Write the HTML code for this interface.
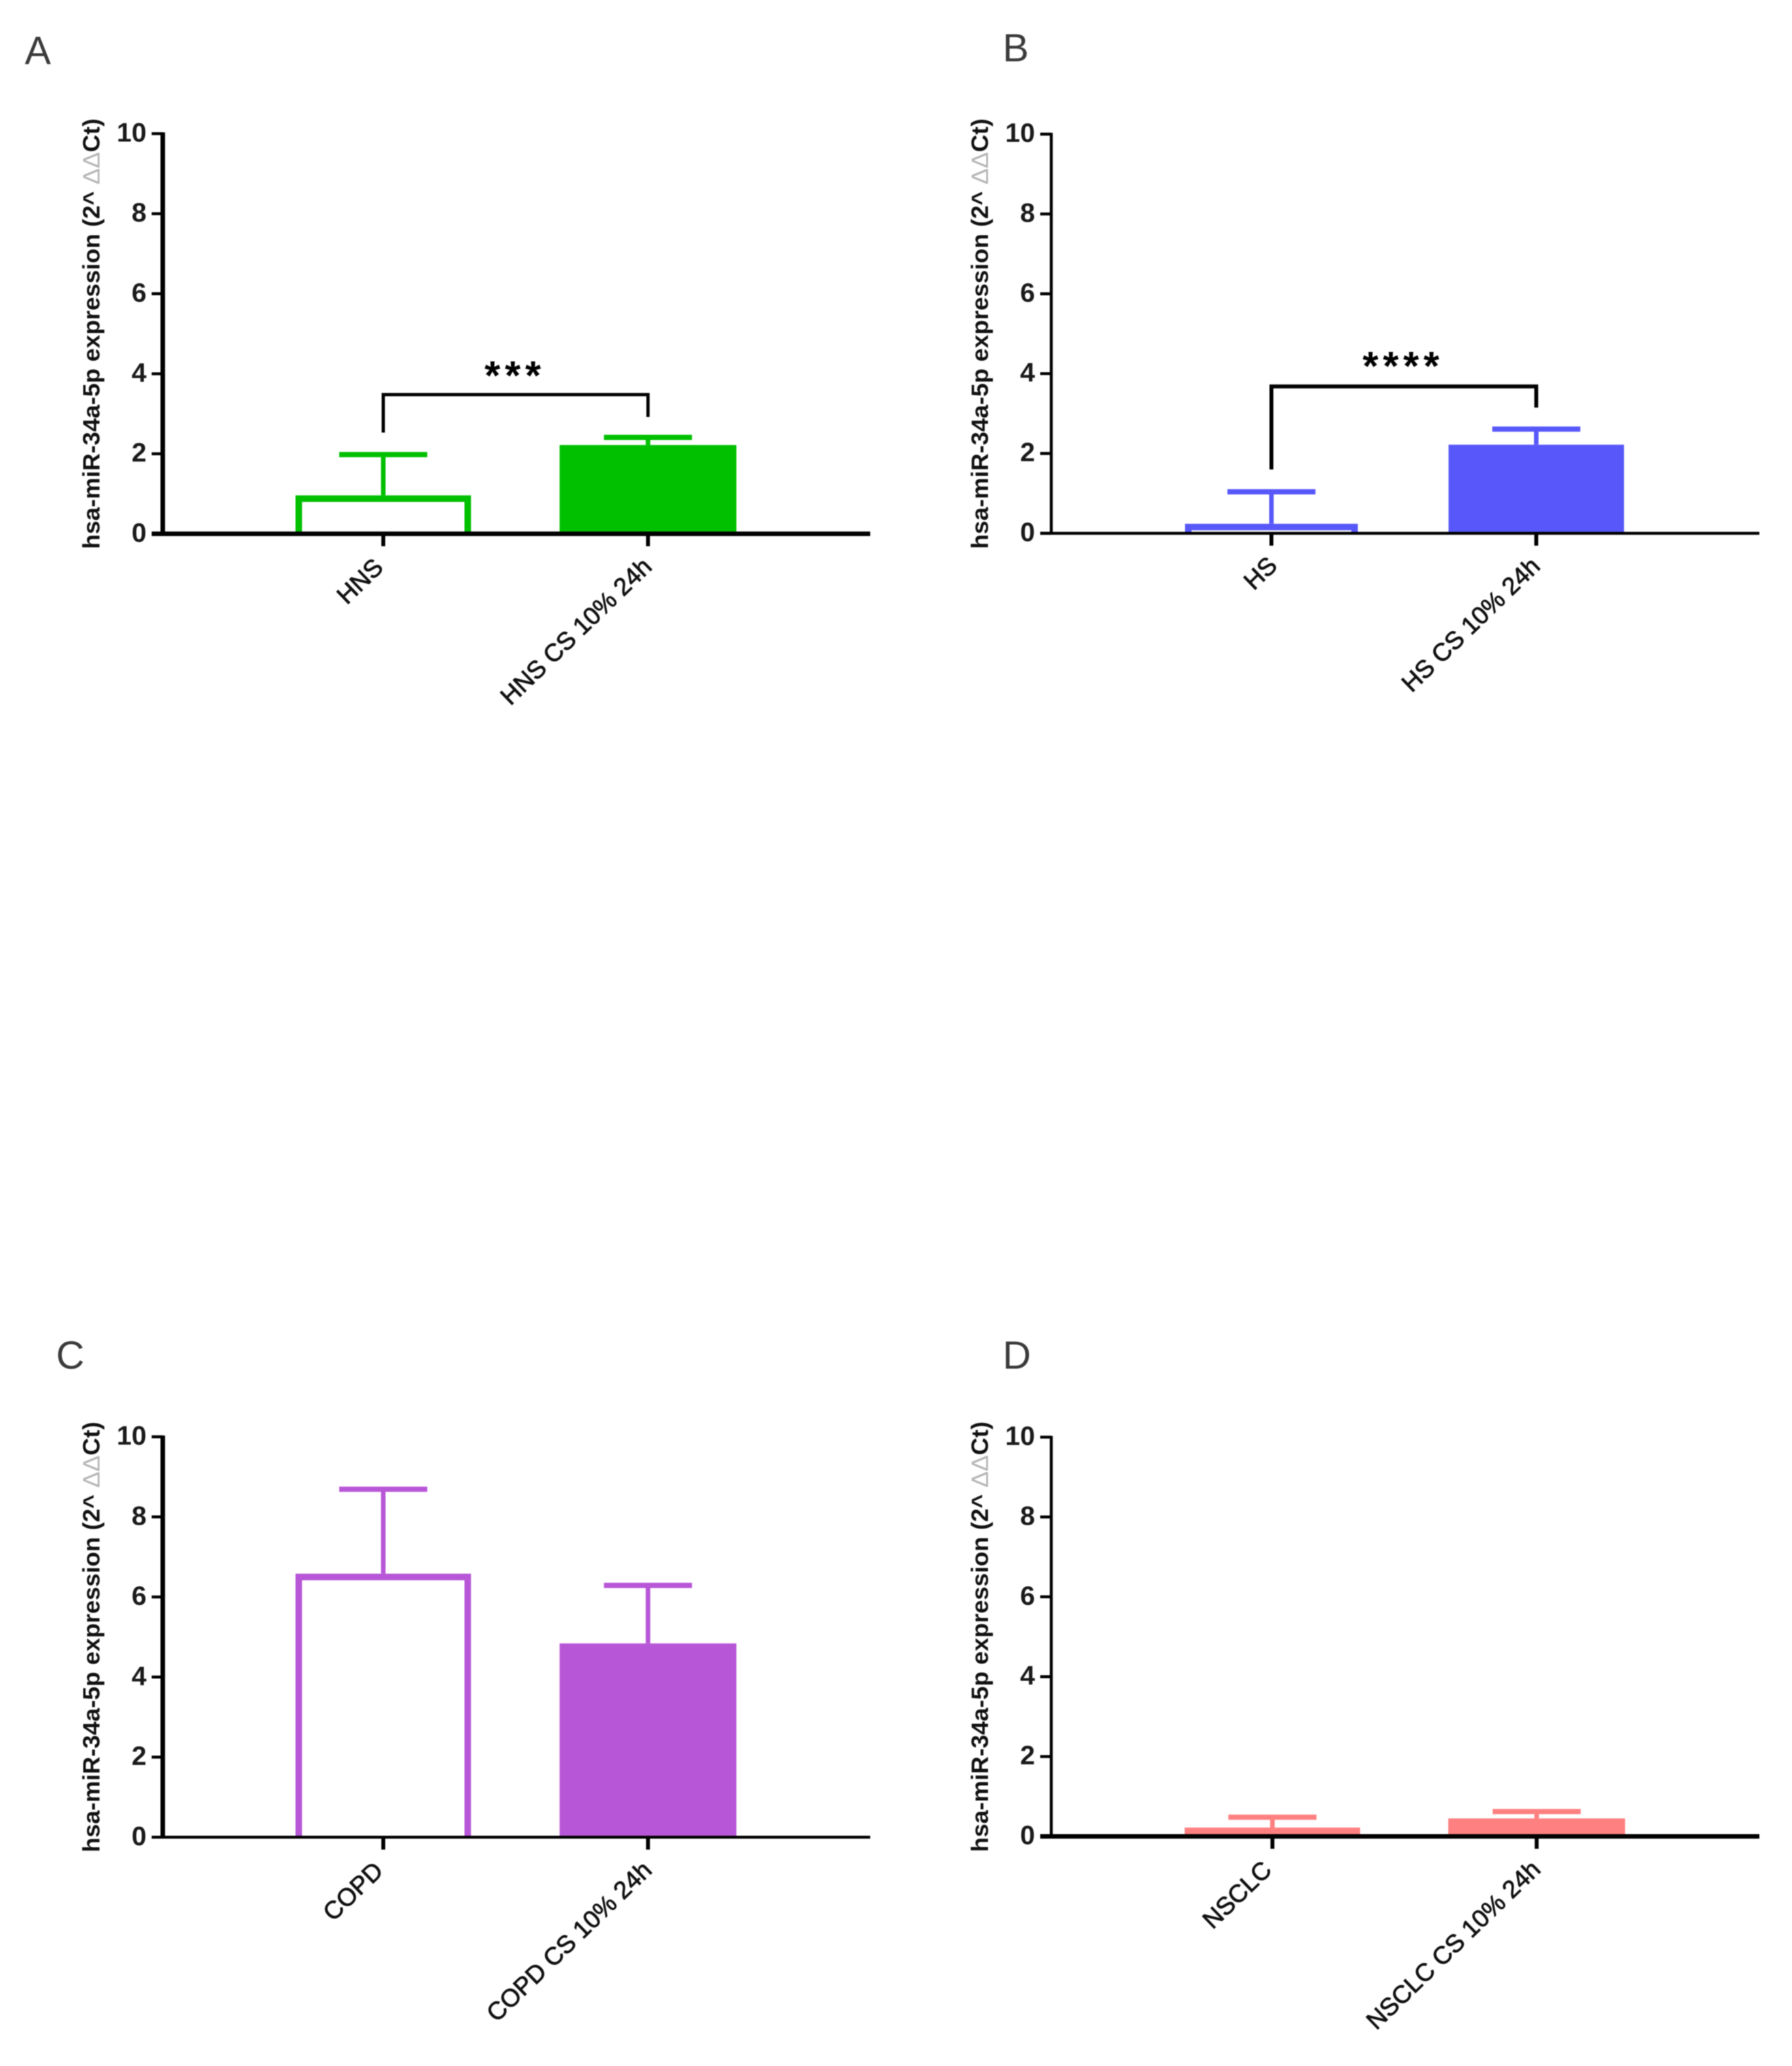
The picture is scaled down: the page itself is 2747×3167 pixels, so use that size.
<!DOCTYPE html>
<html lang="en">
<head>
<meta charset="utf-8">
<title>hsa-miR-34a-5p expression</title>
<style>
html,body{margin:0;padding:0;background:#fff;}
svg{display:block;filter:blur(0.9px);}
text{font-family:"Liberation Sans",sans-serif;}
</style>
</head>
<body>
<svg id="figure" xmlns="http://www.w3.org/2000/svg" width="2747" height="3167" viewBox="0 0 2747 3167"></svg>
<script>
// Chart data
const yTicks = [0, 2, 4, 6, 8, 10];
const categoriesA = ["HNS", "HNS CS 10% 24h"];
const valuesA = [0.96, 2.22];
const errorsA = [1.98, 2.41];
const bracketA = [3.48, 2.53, 2.92];
const categoriesB = ["HS", "HS CS 10% 24h"];
const valuesB = [0.24, 2.22];
const errorsB = [1.04, 2.61];
const bracketB = [3.68, 1.60, 3.15];
const categoriesC = ["COPD", "COPD CS 10% 24h"];
const valuesC = [6.58, 4.84];
const errorsC = [8.69, 6.29];
const categoriesD = ["NSCLC", "NSCLC CS 10% 24h"];
const valuesD = [0.22, 0.45];
const errorsD = [0.48, 0.62];

const NS = "http://www.w3.org/2000/svg";
const root = document.getElementById("figure");

function make(parent, tag, attrs, text) {
  const el = document.createElementNS(NS, tag);
  for (const k in attrs) el.setAttribute(k, attrs[k]);
  if (text !== undefined) el.textContent = text;
  parent.appendChild(el);
  return el;
}

function drawPanel(p) {
  const g = make(root, "g", {});
  
  

  const yScale = v => p.y0 + (p.y10 - p.y0) * v / 10;
  const xScale = i => p.tickX[i];

  const letter = make(g, "text", {x: p.letterX, y: p.letterY, "font-size": 60, fill: "#3a3a3a"}, p.letter);
  
  

  p.values.forEach((v, i) => {
    const cx = xScale(i);
    const top = yScale(v);
    const errTop = yScale(p.errors[i]);

    const stem = make(g, "line", {x1: cx, x2: cx, y1: top, y2: errTop, stroke: p.color, "stroke-width": 7});
    
    

    const cap = make(g, "line", {x1: cx - 67.5, x2: cx + 67.5, y1: errTop, y2: errTop, stroke: p.color, "stroke-width": 8});
    
    

    const hw = p.barW[i] / 2;
    let bar;
    if (i === 0) {
      const sw = 10;
      bar = make(g, "path", {d: "M" + (cx - hw + sw / 2) + " " + p.y0 + " V" + (top + sw / 2) + " H" + (cx + hw - sw / 2) + " V" + p.y0, fill: "#fff", stroke: p.color, "stroke-width": sw});
    } else {
      bar = make(g, "rect", {x: cx - hw, y: top, width: hw * 2, height: p.y0 - top, fill: p.color});
    }
    
    

    const tick = make(g, "line", {x1: cx, x2: cx, y1: p.y0, y2: p.y0 + 19, stroke: "#000", "stroke-width": 6});
    
    

    const ax = cx + 11 + p.labelShift[i][0];
    const ay = p.y0 + 50 + p.labelShift[i][1];
    const lab = make(g, "text", {x: ax, y: ay, "font-size": 38, "font-weight": 400, fill: "#111", stroke: "#111", "stroke-width": 0.9, "text-anchor": "end", transform: "rotate(-44 " + ax + " " + ay + ")"}, p.categories[i]);
    
    
  });

  const xAxis = make(g, "line", {x1: p.axisX - 17, x2: p.axisEnd, y1: p.y0, y2: p.y0, stroke: "#000", "stroke-width": p.xAxisW});
  
  

  const yAxis = make(g, "line", {x1: p.axisX, x2: p.axisX, y1: p.y10 - 2, y2: p.y0 + 2, stroke: "#000", "stroke-width": p.yAxisW});
  
  

  yTicks.forEach(t => {
    const y = yScale(t);
    const tick = make(g, "line", {x1: p.axisX - 17, x2: p.axisX, y1: y, y2: y, stroke: "#000", "stroke-width": 4.5});
    
    

    const lab = make(g, "text", {x: p.axisX - 25, y: y + 12, "font-size": 41, "font-weight": 700, fill: "#1a1a1a", "text-anchor": "end"}, String(t));
    
    
  });

  const midY = (p.y0 + p.y10) / 2;
  const titleX = p.axisX - 97;
  const title = make(g, "text", {x: titleX, y: midY, "font-size": 36, "font-weight": 700, fill: "#111", "text-anchor": "middle", textLength: 660, lengthAdjust: "spacingAndGlyphs", transform: "rotate(-90 " + titleX + " " + midY + ")"});
  
  
  make(title, "tspan", {}, "hsa-miR-34a-5p expression (2^ ");
  make(title, "tspan", {fill: "#b5b5b5", "font-weight": 400}, "\u0394\u0394");
  make(title, "tspan", {}, "Ct)");

  if (p.bracket) {
    const by = yScale(p.bracket[0]);
    const bl = yScale(p.bracket[1]);
    const br = yScale(p.bracket[2]);
    const path = make(g, "path", {d: "M" + xScale(0) + " " + bl + " V" + by + " H" + xScale(1) + " V" + br, fill: "none", stroke: "#000", "stroke-width": p.bracketW});
    
    

    const sx = (xScale(0) + xScale(1)) / 2 - 1;
    const stars = make(g, "text", {x: sx, y: by + p.starDy, "font-size": 62, "font-weight": 700, fill: "#000", "text-anchor": "middle", "letter-spacing": 7}, p.stars);
    
    
  }
}

drawPanel({letter: "A", letterX: 38, letterY: 98, color: "#00c000", categories: categoriesA, values: valuesA, errors: errorsA, bracket: bracketA, stars: "***", starDy: -8, bracketW: 5, axisX: 249.5, axisEnd: 1334, y0: 818.3, y10: 204.9, tickX: [587.5, 993.3], barW: [269, 271], xAxisW: 7, yAxisW: 7, labelShift: [[-9, 4], [-3, 3]]});
drawPanel({letter: "B", letterX: 1537, letterY: 94, color: "#5858fa", categories: categoriesB, values: valuesB, errors: errorsB, bracket: bracketB, stars: "****", starDy: -10, bracketW: 6, axisX: 1611.5, axisEnd: 2697, y0: 817.5, y10: 205.6, tickX: [1949, 2355], barW: [265, 269], xAxisW: 4.5, yAxisW: 4.5, labelShift: [[0, 2], [-3, 3]]});
drawPanel({letter: "C", letterX: 86, letterY: 2098, color: "#b856d8", categories: categoriesC, values: valuesC, errors: errorsC, axisX: 249.5, axisEnd: 1334, y0: 2816.3, y10: 2202.5, tickX: [587.5, 993.3], barW: [269, 271], xAxisW: 4.5, yAxisW: 7, labelShift: [[-9, 4], [-3, 3]]});
drawPanel({letter: "D", letterX: 1537, letterY: 2098, color: "#ff8080", categories: categoriesD, values: valuesD, errors: errorsD, axisX: 1611.5, axisEnd: 2697, y0: 2815, y10: 2203, tickX: [1950.5, 2355.6], barW: [269, 271], xAxisW: 7, yAxisW: 4.5, labelShift: [[-10, 4], [-3, 3]]});
</script>
</body>
</html>
